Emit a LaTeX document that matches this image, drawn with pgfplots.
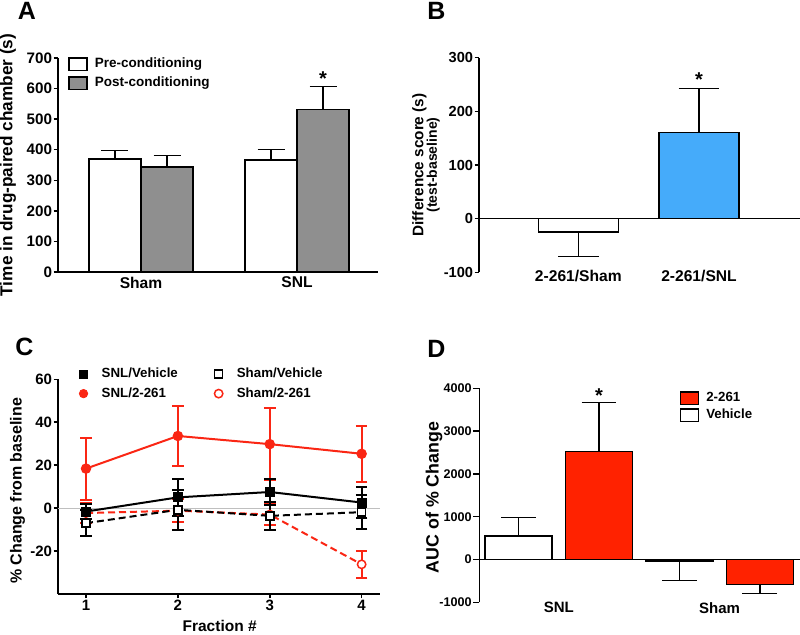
\documentclass[border=0pt]{standalone}
\usepackage{pgfplots}
\pgfplotsset{compat=1.18}
\usepackage{fontspec}
\setmainfont{Liberation Sans}
\definecolor{barGray}{RGB}{143,143,143}
\definecolor{barBlue}{RGB}{69,171,250}
\definecolor{barRed}{RGB}{255,34,0}
\definecolor{lineRed}{RGB}{250,38,20}
\newcommand{\F}[1]{\bfseries\fontsize{#1}{#1}\selectfont}
\pgfplotsset{
  boxlegend/.style={legend image code/.code={\draw[##1] (0pt,-3.2pt) rectangle (9pt,3.2pt);}},
  marklegend/.style={legend image code/.code={\draw[##1] plot coordinates {(3pt,0pt)};}},
  panel/.style={scale only axis, axis lines=left, axis line style={-, line width=0.75pt},
    tick align=outside, major tick length=2.2pt, tick style={line width=0.75pt, black},
    clip=false, anchor=south west,
    yticklabel style={inner xsep=0.6pt},
    legend style={draw=none, fill=none, anchor=north west, inner sep=0pt,
      nodes={inner sep=1pt, text height=5pt, text depth=1.5pt},
      /tikz/every odd column/.append style={column sep=2.5pt}},
    legend cell align=left},
  ebar/.style={error bars/.cd, y explicit, y dir=#1,
    error bar style={line width=0.75pt, black, solid},
    error mark=|,
    error mark options={line width=0.75pt, black, solid}},
  cbar/.style={error bars/.cd, y explicit, y dir=both,
    error bar style={#1, line width=1pt, solid},
    error mark=|,
    error mark options={#1, line width=1pt, solid, mark size=2.9pt}},
}
\begin{document}
\begin{tikzpicture}
\useasboundingbox (0,0) rectangle (400pt,317.5pt);
% ---------------- Panel A ----------------
\begin{axis}[panel, at={(29pt,181.5pt)}, width=160pt, height=107pt,
  xmin=-0.532, xmax=1.519, ymin=0, ymax=700,
  ytick={0,100,200,300,400,500,600,700},
  yticklabels={0,100,200,300,400,500,600,700},
  xtick={0,1}, xticklabels={Sham,SNL}, major x tick style={draw=none},
  yticklabel style={font=\F{7.6}}, xticklabel style={font=\F{7.8}, yshift=3.2pt},
  ylabel={Time in drug-paired chamber (s)},
  ylabel style={font=\F{8.6}, at={(axis description cs:-0.156,0.5)}, anchor=center},
  legend style={at={(axis description cs:0.031,1.012)}, font=\F{6.75}, row sep=1pt}]
\addlegendimage{boxlegend, fill=white, draw=black, line width=0.75pt}
\addlegendentry{Pre-conditioning}
\addlegendimage{boxlegend, fill=barGray, draw=black, line width=0.75pt}
\addlegendentry{Post-conditioning}
\addplot[forget plot, ybar, bar width=0.333, bar shift=0, fill=white, draw=black, line width=0.75pt,
  ebar=plus, error mark options={mark size=6.75pt}]
  coordinates {(-0.1667,369) +- (0,29) (0.8333,367) +- (0,34)};
\addplot[forget plot, ybar, bar width=0.333, bar shift=0, fill=barGray, draw=black, line width=0.75pt,
  ebar=plus, error mark options={mark size=6.75pt}]
  coordinates {(0.1667,343) +- (0,37) (1.1667,531) +- (0,76)};
\node[font=\F{10}, anchor=base] at (axis cs:1.1667,610) {*};
\end{axis}
% ---------------- Panel B ----------------
\begin{axis}[panel, at={(239.5pt,181.35pt)}, width=160.5pt, height=107.3pt,
  axis x line*=bottom, x axis line style={draw=none},
  xmin=-0.823, xmax=1.837, ymin=-100, ymax=300,
  ytick={-100,0,100,200,300}, yticklabels={-100,0,100,200,300},
  xtick={0,1}, xticklabels={2-261/Sham,2-261/SNL}, major x tick style={draw=none},
  yticklabel style={font=\F{7.3}}, xticklabel style={font=\F{7.8}, yshift=7pt},
  ylabel={Difference score (s)\\[-1pt]{\fontsize{7}{7}\selectfont(test-baseline)}},
  ylabel style={font=\F{7.65}, align=center, at={(axis description cs:-0.165,0.5)}, anchor=center}]
\addplot[ybar, bar width=0.663, bar shift=0, fill=white, draw=black, line width=0.75pt,
  ebar=minus, error mark options={mark size=10.2pt}]
  coordinates {(0,-24.8) +- (0,45.4)};
\addplot[ybar, bar width=0.663, bar shift=0, fill=barBlue, draw=black, line width=0.75pt,
  ebar=plus, error mark options={mark size=10.2pt}]
  coordinates {(1,160.2) +- (0,82)};
\draw[line width=0.75pt] (axis cs:-0.823,0) -- (axis cs:1.837,0);
\node[font=\F{10}, anchor=base] at (axis cs:1,247) {*};
\end{axis}
% ---------------- Panel C ----------------
\begin{axis}[panel, at={(29pt,20.5pt)}, width=161pt, height=107.35pt,
  xmin=0.695, xmax=4.2, ymin=-40, ymax=60,
  ytick={-20,0,20,40,60}, yticklabels={-20,0,20,40,60},
  xtick={1,2,3,4}, xticklabels={1,2,3,4},
  yticklabel style={font=\F{7.5}}, xticklabel style={font=\F{7.5}, yshift=2.5pt},
  ylabel={\% Change from baseline},
  ylabel style={font=\F{8}, at={(axis description cs:-0.126,0.48)}, anchor=center},
  xlabel={Fraction \#},
  xlabel style={font=\F{7.75}, at={(axis description cs:0.502,-0.149)}, anchor=center},
  legend columns=2,
  legend style={at={(axis description cs:0.065,1.066)}, font=\F{6.65}, row sep=1.3pt,
    /tikz/every odd column/.append style={column sep=6pt},
    /tikz/every even column/.append style={column sep=17.3pt}}]
\draw[black!25, line width=0.6pt] (axis cs:0.695,0) -- (axis cs:4.2,0);
\addlegendimage{marklegend, only marks, mark=square*, mark size=2pt, black}
\addlegendentry{SNL/Vehicle}
\addlegendimage{marklegend, only marks, mark=square*, mark size=2pt, mark options={fill=white, draw=black, line width=0.75pt}}
\addlegendentry{Sham/Vehicle}
\addlegendimage{marklegend, only marks, mark=*, mark size=2.1pt, lineRed}
\addlegendentry{SNL/2-261}
\addlegendimage{marklegend, only marks, mark=*, mark size=2.1pt, mark options={fill=white, draw=lineRed, line width=0.75pt}}
\addlegendentry{Sham/2-261}
% Sham/2-261
\addplot[forget plot, lineRed, line width=1pt, dash pattern=on 3.5pt off 2pt,
  mark=*, mark size=2.1pt, mark options={solid, fill=white, draw=lineRed, line width=0.75pt},
  cbar=lineRed]
  coordinates {(1,-2.3) +- (0,4.6) (2,-1.2) +- (0,5.5) (3,-3.0) +- (0,5.0) (4,-26.2) +- (0,6.3)};
% Sham/Vehicle
\addplot[forget plot, black, line width=1pt, dash pattern=on 3.5pt off 2pt,
  mark=square*, mark size=2pt, mark options={solid, fill=white, draw=black, line width=0.75pt},
  cbar=black]
  coordinates {(1,-7.0) +- (0,6.2) (2,-0.8) +- (0,9.3) (3,-3.6) +- (0,6.5) (4,-1.9) +- (0,7.9)};
% SNL/2-261
\addplot[forget plot, lineRed, line width=1pt,
  mark=*, mark size=2.1pt, mark options={solid, fill=lineRed, draw=lineRed},
  cbar=lineRed]
  coordinates {(1,18.4) +- (0,14.4) (2,33.6) +- (0,14.0) (3,29.8) +- (0,16.7) (4,25.3) +- (0,13.0)};
% SNL/Vehicle
\addplot[forget plot, black, line width=1pt,
  mark=square*, mark size=2pt, mark options={solid, fill=black, draw=black},
  cbar=black]
  coordinates {(1,-1.6) +- (0,3.5) (2,5.0) +- (0,8.5) (3,7.5) +- (0,6.0) (4,2.6) +- (0,7.3)};
\end{axis}
% ---------------- Panel D ----------------
\begin{axis}[panel, at={(239.65pt,16.35pt)}, width=160.35pt, height=107pt,
  axis x line*=bottom, x axis line style={draw=none}, major tick length=3pt,
  xmin=-0.49, xmax=3.5, ymin=-1000, ymax=4000,
  ytick={-1000,0,1000,2000,3000,4000}, yticklabels={-1000,0,1000,2000,3000,4000},
  xtick={0.5,2.5}, xticklabels={SNL,Sham}, major x tick style={draw=none},
  yticklabel style={font=\F{6.3}}, xticklabel style={font=\F{7.5}, yshift=6.5pt},
  ylabel={AUC of \% Change},
  ylabel style={font=\F{8.9}, at={(axis description cs:-0.141,0.49)}, anchor=center},
  legend style={at={(axis description cs:0.624,0.995)}, font=\F{6.65}, row sep=0pt}]
\addlegendimage{boxlegend, fill=barRed, draw=black, line width=0.75pt}
\addlegendentry{2-261}
\addlegendimage{boxlegend, fill=white, draw=black, line width=0.75pt}
\addlegendentry{Vehicle}
\addplot[forget plot, ybar, bar width=0.834, bar shift=0, fill=white, draw=black, line width=0.75pt,
  ebar=plus, error mark options={mark size=8.7pt}]
  coordinates {(0,553) +- (0,429)};
\addplot[forget plot, ybar, bar width=0.834, bar shift=0, fill=barRed, draw=black, line width=0.75pt,
  ebar=plus, error mark options={mark size=8.7pt}]
  coordinates {(1,2518) +- (0,1145)};
\addplot[forget plot, ybar, bar width=0.834, bar shift=0, fill=white, draw=black, line width=0.75pt,
  ebar=minus, error mark options={mark size=8.7pt}]
  coordinates {(2,-31) +- (0,460)};
\addplot[forget plot, ybar, bar width=0.834, bar shift=0, fill=barRed, draw=black, line width=0.75pt,
  ebar=minus, error mark options={mark size=8.7pt}]
  coordinates {(3,-585) +- (0,210)};
\draw[line width=0.75pt] (axis cs:-0.49,0) -- (axis cs:3.5,0);
\node[font=\F{10}, anchor=base] at (axis cs:1,3668) {*};
\end{axis}
% panel letters
\node[font=\F{12.5}] at (13.5pt,312pt) {A};
\node[font=\F{12.5}] at (218.25pt,312pt) {B};
\node[font=\F{12.5}] at (12.25pt,144pt) {C};
\node[font=\F{12.5}] at (218.25pt,143pt) {D};
\end{tikzpicture}
\end{document}
